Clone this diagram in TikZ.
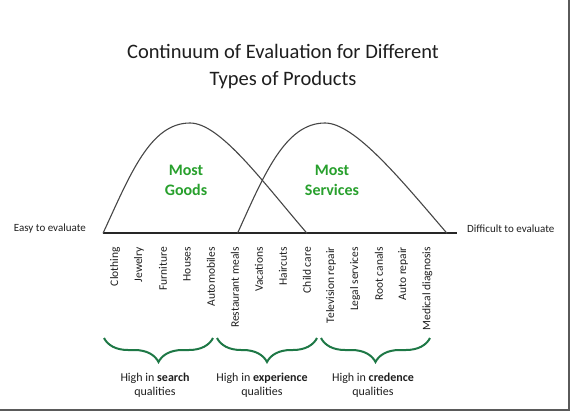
\documentclass[tikz,border=0pt]{standalone}
\usepackage{fontspec}
\setmainfont{Carlito}
\usetikzlibrary{decorations.pathreplacing}
\definecolor{txt}{RGB}{30,30,30}
\definecolor{curvegray}{RGB}{70,70,70}
\definecolor{goodgreen}{RGB}{40,160,45}
\definecolor{bracegreen}{RGB}{30,120,70}
\definecolor{shadow}{RGB}{90,90,90}
\tikzset{
  titletext/.style={align=center, text=txt, font=\fontsize{20.5}{27}\selectfont},
  endlabel/.style={text=txt, font=\fontsize{11}{13}\selectfont, inner sep=0pt},
  itemlabel/.style={rotate=90, anchor=east, text=txt, font=\fontsize{11.5}{13}\selectfont, inner sep=0pt},
  bumplabel/.style={align=center, text=goodgreen, font=\bfseries\fontsize{16}{20}\selectfont},
  qualitylabel/.style={align=center, text=txt, font=\fontsize{12}{14.4}\selectfont},
  axisline/.style={line width=2pt, black!85},
  bump/.style={line width=1.1pt, curvegray},
  gbrace/.style={decorate, decoration={brace, amplitude=24pt}, line width=2pt, bracegreen},
  frameshadow/.style={line width=2.5pt, shadow}
}
\begin{document}
\begin{tikzpicture}[x=1pt, y=-1pt]
\useasboundingbox (0,0) rectangle (571,413);
% frame shadow
\coordinate (f1) at (568.8,0);
\coordinate (f2) at (568.8,409.8);
\coordinate (f3) at (0,409.8);
\draw[frameshadow] (f1) -- (f2) -- (f3);

% title
\node[titletext] (title) at (283,67) {Continuum of Evaluation for Different\\Types of Products};

% axis
\coordinate (L) at (103,233.3);
\coordinate (R) at (457,233.3);
\draw[axisline] (L) -- (R);

% goods curve
\coordinate (gs) at (103,233.3);
\coordinate (gp) at (190,123);
\coordinate (ge) at (307,233.3);
\draw[bump] (gs) .. controls (130,175) and (150,123) .. (gp)
            .. controls (220,123) and (262,181) .. (ge);

% services curve
\coordinate (ss) at (237.5,233.3);
\coordinate (sp) at (325,123);
\coordinate (se) at (447,233.3);
\draw[bump] (ss) .. controls (264,175) and (285,123) .. (sp)
            .. controls (355,123) and (402,181) .. (se);

\node[bumplabel] (goods) at (186,180) {Most\\Goods};
\node[bumplabel] (services) at (332,180) {Most\\Services};

% end labels
\node[endlabel, anchor=east] (easy) at (86,228.5) {Easy to evaluate};
\node[endlabel, anchor=west] (difficult) at (467,228.5) {Difficult to evaluate};

% items
\node[itemlabel] (i1) at (115.0,247) {Clothing};
\node[itemlabel] (i2) at (139.0,247) {Jewelry};
\node[itemlabel] (i3) at (163.0,247) {Furniture};
\node[itemlabel] (i4) at (187.0,247) {Houses};
\node[itemlabel] (i5) at (211.0,247) {Automobiles};
\node[itemlabel] (i6) at (235.0,247) {Restaurant meals};
\node[itemlabel] (i7) at (259.0,247) {Vacations};
\node[itemlabel] (i8) at (283.0,247) {Haircuts};
\node[itemlabel] (i9) at (307.0,247) {Child care};
\node[itemlabel] (i10) at (331.0,247) {Television repair};
\node[itemlabel] (i11) at (355.0,247) {Legal services};
\node[itemlabel] (i12) at (379.0,247) {Root canals};
\node[itemlabel] (i13) at (403.0,247) {Auto repair};
\node[itemlabel] (i14) at (427.3,247) {Medical diagnosis};

% braces
\coordinate (b1l) at (104,338);
\coordinate (b1r) at (213,338);
\coordinate (b2l) at (217,338);
\coordinate (b2r) at (317,338);
\coordinate (b3l) at (321,338);
\coordinate (b3r) at (430,338);
\draw[gbrace] (b1r) -- (b1l);
\draw[gbrace] (b2r) -- (b2l);
\draw[gbrace] (b3r) -- (b3l);

% quality labels
\node[qualitylabel] (q1) at (155,385.5) {High in \textbf{search}\\qualities};
\node[qualitylabel] (q2) at (262,385.5) {High in \textbf{experience}\\qualities};
\node[qualitylabel] (q3) at (373,385.5) {High in \textbf{credence}\\qualities};
\end{tikzpicture}
\end{document}
